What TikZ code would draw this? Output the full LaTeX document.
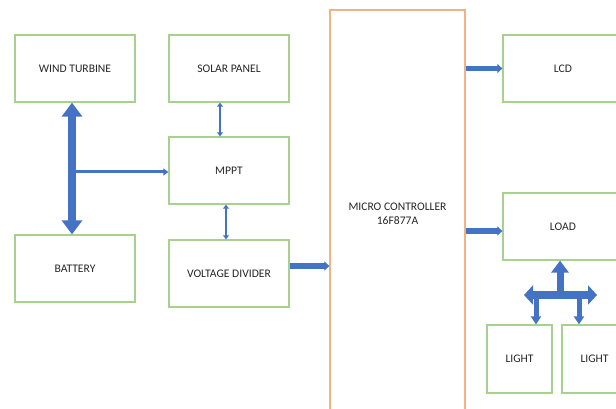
\documentclass[tikz,border=0pt]{standalone}
\usepackage{fontspec}
\setmainfont{Carlito}
\usetikzlibrary{arrows.meta}
\definecolor{boxgreen}{HTML}{A9D18E}
\definecolor{mcuorange}{HTML}{F4B183}
\definecolor{arrowblue}{HTML}{4472C4}
\begin{document}
\begin{tikzpicture}[x=1pt,y=-1pt,every node/.style={font=\fontsize{11.6}{13.5}\selectfont,text=black!85},
  box/.style={draw=boxgreen,line width=1.3pt,align=center,minimum width=120pt,minimum height=67pt},
  smallbox/.style={box,minimum width=65pt,minimum height=68pt},
  thin link/.style={draw=arrowblue,line width=2pt,{Triangle[width=6pt,length=4pt]}-{Triangle[width=6pt,length=4pt]},arrowblue},
  feed/.style={draw=arrowblue,line width=3pt,-{Triangle[width=7pt,length=5pt]},arrowblue},
  bus/.style={draw=arrowblue,line width=5.5pt,-{Triangle[width=9pt,length=5pt]},arrowblue},
  fat link/.style={draw=arrowblue,line width=8pt,{Triangle[width=20pt,length=14pt]}-{Triangle[width=20pt,length=14pt]},arrowblue}]
\useasboundingbox (0,0) rectangle (616,409);
\clip (0,0) rectangle (616,409);
\node[box] (wind) at (75,68.5) {WIND TURBINE};
\node[box] (solar) at (229,68.5) {SOLAR PANEL};
\node[box] (mppt) at (229,170.5) {MPPT};
\node[box] (battery) at (75,268.5) {BATTERY};
\node[box] (divider) at (229,273.5) {VOLTAGE DIVIDER};
\node[box,draw=mcuorange,minimum width=135pt,minimum height=408pt] (mcu) at (397.5,214) {MICRO CONTROLLER\\16F877A};
\node[box] (lcd) at (563,68.5) {LCD};
\node[box] (load) at (563,226.5) {LOAD};
\node[smallbox] (lightA) at (519.5,359) {LIGHT};
\node[smallbox] (lightB) at (594.5,359) {LIGHT};
\coordinate (tap) at (72,172);
\coordinate (hub) at (560,295);
\coordinate (barL) at (524,295);
\coordinate (barR) at (597,295);
\coordinate (dropA) at (536,295);
\coordinate (dropB) at (579,295);
% wind turbine, battery and mppt
\draw[fat link] ([xshift=-3pt]wind.south) -- ([xshift=-3pt]battery.north);
\draw[feed] (tap) -- (tap -| mppt.west);
\draw[thin link] ([xshift=-9pt]solar.south) -- ([xshift=-9pt]mppt.north);
\draw[thin link] ([xshift=-3pt]mppt.south) -- ([xshift=-3pt]divider.north);
% to and from the controller
\draw[bus] ([yshift=7.5pt]divider.east) -- ([yshift=7.5pt]divider.east -| mcu.west);
\draw[bus] (lcd.west -| mcu.east) -- (lcd.west);
\draw[bus] ([yshift=-4.5pt]load.west -| mcu.east) -- ([yshift=-4.5pt]load.west);
% load to lights
\draw[arrowblue,line width=8pt,{Triangle[width=19pt,length=9pt]}-{Triangle[width=19pt,length=9pt]},arrowblue] (barL) -- (barR);
\draw[arrowblue,line width=7pt,-{Triangle[width=17pt,length=12pt]},arrowblue] ([yshift=3pt]hub) -- (hub |- load.south);
\draw[arrowblue,line width=5pt,-{Triangle[width=10pt,length=8pt]},arrowblue] (dropA) -- (dropA |- lightA.north);
\draw[arrowblue,line width=5pt,-{Triangle[width=10pt,length=8pt]},arrowblue] (dropB) -- (dropB |- lightB.north);
\end{tikzpicture}
\end{document}
